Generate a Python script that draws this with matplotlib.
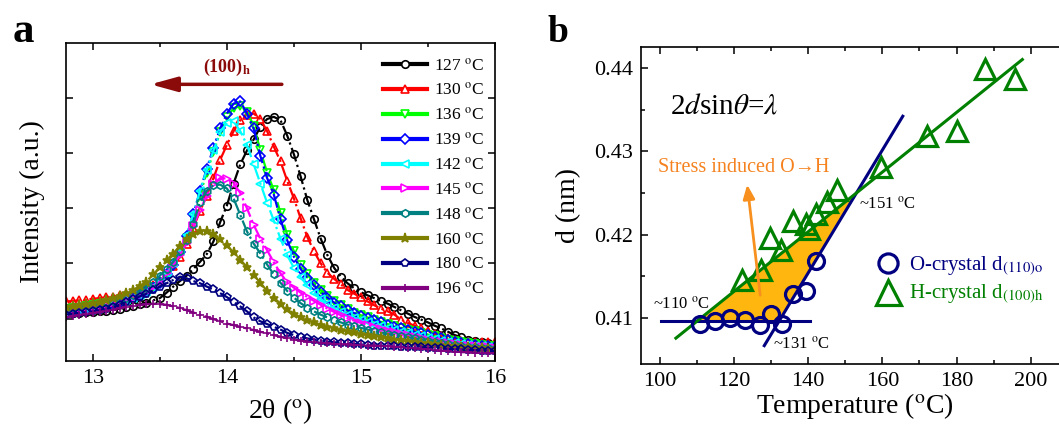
import numpy as np
import matplotlib
matplotlib.use('Agg')
import matplotlib.pyplot as plt

plt.rcParams['font.family'] = ['Liberation Serif', 'DejaVu Serif']
plt.rcParams['mathtext.fontset'] = 'stix'

# ---------------- panel a : XRD scans ----------------
# scan grid (2theta, deg), step 0.05
two_theta = np.round(np.arange(12.80, 16.001, 0.05), 2)

temps_a = ['127', '130', '136', '139', '142', '145', '148', '160', '180', '196']

i127 = [1.10, 1.10, 1.11, 1.12, 1.12, 1.13, 1.14, 1.16, 1.18, 1.21,
        1.23, 1.26, 1.29, 1.33, 1.37, 1.47, 1.58, 1.68, 1.78, 1.90,
        2.03, 2.17, 2.40, 2.75, 3.05, 3.45, 3.80, 4.05, 4.25, 4.48,
        4.62, 4.66, 4.60, 4.32, 3.98, 3.58, 3.15, 2.80, 2.45, 2.15,
        1.92, 1.76, 1.64, 1.55, 1.48, 1.42, 1.37, 1.32, 1.27, 1.21,
        1.15, 1.09, 1.03, 0.98, 0.93, 0.87, 0.82, 0.76, 0.70, 0.66,
        0.62, 0.59, 0.57, 0.55, 0.53]
i130 = [1.31, 1.32, 1.33, 1.34, 1.36, 1.37, 1.39, 1.40, 1.42, 1.44,
        1.47, 1.51, 1.55, 1.61, 1.68, 1.80, 1.95, 2.12, 2.35, 2.65,
        2.95, 3.23, 3.55, 3.88, 4.15, 4.40, 4.60, 4.70, 4.72, 4.62,
        4.40, 4.12, 3.85, 3.50, 3.18, 2.82, 2.48, 2.22, 2.00, 1.83,
        1.72, 1.62, 1.52, 1.45, 1.39, 1.31, 1.24, 1.18, 1.13, 1.07,
        0.98, 0.92, 0.87, 0.82, 0.77, 0.72, 0.68, 0.64, 0.61, 0.59,
        0.58, 0.58, 0.57, 0.57, 0.57]
i136 = [1.18, 1.19, 1.20, 1.22, 1.24, 1.26, 1.28, 1.30, 1.33, 1.36,
        1.40, 1.45, 1.51, 1.58, 1.67, 1.80, 1.97, 2.18, 2.46, 2.84,
        3.25, 3.65, 4.02, 4.38, 4.65, 4.82, 4.85, 4.75, 4.50, 4.05,
        3.65, 3.33, 2.92, 2.52, 2.22, 1.98, 1.80, 1.65, 1.52, 1.41,
        1.32, 1.24, 1.17, 1.11, 1.06, 1.02, 0.98, 0.94, 0.90, 0.86,
        0.83, 0.80, 0.77, 0.74, 0.71, 0.68, 0.65, 0.62, 0.59, 0.57,
        0.55, 0.53, 0.52, 0.51, 0.50]
i139 = [1.15, 1.16, 1.17, 1.19, 1.21, 1.23, 1.25, 1.27, 1.30, 1.33,
        1.37, 1.42, 1.48, 1.56, 1.65, 1.80, 1.98, 2.20, 2.50, 2.90,
        3.32, 3.72, 4.10, 4.45, 4.72, 4.90, 4.94, 4.72, 4.45, 3.95,
        3.55, 3.25, 2.80, 2.42, 2.12, 1.90, 1.74, 1.60, 1.48, 1.38,
        1.29, 1.22, 1.15, 1.10, 1.05, 1.01, 0.97, 0.93, 0.89, 0.85,
        0.82, 0.79, 0.76, 0.73, 0.70, 0.67, 0.64, 0.61, 0.58, 0.56,
        0.54, 0.52, 0.51, 0.50, 0.49]
i142 = [1.16, 1.17, 1.18, 1.20, 1.22, 1.24, 1.26, 1.28, 1.31, 1.34,
        1.38, 1.43, 1.49, 1.57, 1.67, 1.82, 2.00, 2.22, 2.52, 2.90,
        3.32, 3.70, 4.05, 4.38, 4.55, 4.58, 4.40, 4.15, 3.80, 3.45,
        3.10, 2.78, 2.45, 2.15, 1.92, 1.75, 1.60, 1.47, 1.36, 1.27,
        1.19, 1.12, 1.06, 1.01, 0.97, 0.93, 0.89, 0.86, 0.83, 0.80,
        0.76, 0.73, 0.70, 0.68, 0.65, 0.63, 0.60, 0.58, 0.56, 0.54,
        0.52, 0.51, 0.50, 0.49, 0.48]
i145 = [1.15, 1.16, 1.17, 1.19, 1.21, 1.23, 1.25, 1.28, 1.31, 1.34,
        1.38, 1.43, 1.49, 1.57, 1.67, 1.82, 1.98, 2.15, 2.38, 2.68,
        2.97, 3.23, 3.45, 3.55, 3.54, 3.45, 3.28, 3.00, 2.70, 2.45,
        2.24, 2.02, 1.82, 1.66, 1.56, 1.47, 1.39, 1.32, 1.25, 1.18,
        1.12, 1.06, 1.01, 0.96, 0.92, 0.88, 0.84, 0.81, 0.78, 0.75,
        0.72, 0.70, 0.67, 0.65, 0.62, 0.60, 0.58, 0.56, 0.54, 0.52,
        0.51, 0.50, 0.49, 0.48, 0.47]
i148 = [1.20, 1.21, 1.22, 1.24, 1.26, 1.28, 1.30, 1.32, 1.35, 1.38,
        1.43, 1.49, 1.56, 1.66, 1.78, 1.90, 2.03, 2.22, 2.42, 2.72,
        3.12, 3.32, 3.42, 3.43, 3.36, 3.18, 2.88, 2.58, 2.36, 2.18,
        1.98, 1.80, 1.65, 1.50, 1.38, 1.28, 1.20, 1.13, 1.07, 1.02,
        0.97, 0.93, 0.89, 0.86, 0.83, 0.80, 0.77, 0.75, 0.72, 0.70,
        0.68, 0.66, 0.64, 0.62, 0.60, 0.58, 0.56, 0.54, 0.52, 0.51,
        0.49, 0.48, 0.47, 0.46, 0.45]
i160 = [1.21, 1.22, 1.24, 1.26, 1.28, 1.30, 1.33, 1.37, 1.41, 1.46,
        1.52, 1.59, 1.67, 1.80, 1.93, 2.06, 2.18, 2.32, 2.45, 2.54,
        2.58, 2.58, 2.54, 2.45, 2.33, 2.20, 2.07, 1.93, 1.79, 1.65,
        1.50, 1.38, 1.27, 1.17, 1.09, 1.02, 0.97, 0.93, 0.89, 0.85,
        0.82, 0.79, 0.77, 0.75, 0.72, 0.70, 0.68, 0.66, 0.64, 0.62,
        0.61, 0.59, 0.58, 0.56, 0.55, 0.53, 0.52, 0.51, 0.50, 0.49,
        0.48, 0.47, 0.46, 0.45, 0.44]
i180 = [1.07, 1.09, 1.10, 1.12, 1.13, 1.15, 1.18, 1.21, 1.25, 1.30,
        1.35, 1.40, 1.45, 1.51, 1.58, 1.64, 1.70, 1.76, 1.73, 1.68,
        1.64, 1.58, 1.53, 1.46, 1.39, 1.30, 1.22, 1.13, 1.02, 0.95,
        0.90, 0.85, 0.80, 0.74, 0.70, 0.67, 0.64, 0.62, 0.60, 0.58,
        0.57, 0.56, 0.55, 0.54, 0.53, 0.52, 0.51, 0.51, 0.50, 0.50,
        0.49, 0.49, 0.48, 0.48, 0.47, 0.46, 0.46, 0.45, 0.44, 0.44,
        0.43, 0.43, 0.42, 0.42, 0.41]
i196 = [1.02, 1.04, 1.06, 1.08, 1.10, 1.12, 1.14, 1.16, 1.19, 1.21,
        1.23, 1.25, 1.26, 1.27, 1.26, 1.25, 1.22, 1.19, 1.15, 1.11,
        1.07, 1.03, 0.99, 0.95, 0.91, 0.88, 0.85, 0.82, 0.79, 0.76,
        0.73, 0.70, 0.67, 0.64, 0.62, 0.60, 0.58, 0.57, 0.56, 0.55,
        0.54, 0.53, 0.53, 0.52, 0.52, 0.51, 0.51, 0.50, 0.50, 0.49,
        0.48, 0.47, 0.46, 0.45, 0.44, 0.43, 0.42, 0.41, 0.40, 0.39,
        0.39, 0.38, 0.38, 0.37, 0.37]

intens = [i127, i130, i136, i139, i142, i145, i148, i160, i180, i196]
colors_a = ['black', '#ff0000', '#00ff00', '#0000ff', '#00ffff',
            '#ff00ff', '#008080', '#808000', '#000080', '#800080']
markers_a = ['o', '^', 'v', 'D', '<', '>', 'h', '*', 'p', '+']

# ---------------- panel b : d-spacing ----------------
o_T = [111, 115, 119, 123, 127, 130, 133, 136, 139.5, 142]
o_d = [0.4093, 0.4097, 0.4100, 0.4098, 0.4092, 0.4105, 0.4093, 0.4129, 0.4132, 0.4169]

h_T = [122.3, 127.3, 129.7, 132.7, 135.9, 139.5, 140.3, 142.1, 145.0, 147.9,
       159.7, 172.1, 180.0, 187.7, 195.6]
h_d = [0.4146, 0.4158, 0.4196, 0.4182, 0.4217, 0.4213, 0.4207, 0.4225, 0.4239, 0.4253,
       0.4281, 0.4318, 0.4324, 0.4399, 0.4387]

# linear fits (end points)
flat_T = [100.3, 140.5]
flat_d = [0.4096, 0.4096]
steep_T = [128.2, 165.5]
steep_d = [0.4067, 0.4342]
hfit_T = [104.4, 197.7]
hfit_d = [0.4076, 0.4410]

W, H = 1059, 428
fig = plt.figure(figsize=(W / 100, H / 100), dpi=100)

# ---- panel a ----
ax = fig.add_axes([66 / W, 1 - 361 / H, 429 / W, 318 / H])
for lab, y, c, m in zip(temps_a, intens, colors_a, markers_a):
    ms = 5.4
    if m == 'D':
        ms = 4.6
    if m == '*':
        ms = 6.5
    if m == '+':
        ms = 6
    if m in ('*', '+'):
        mfc = c
    else:
        mfc = 'none'
    ax.plot(two_theta, y, ls='-.', lw=1.6, color=c, marker=m, ms=ms, mew=1.2,
            mfc=mfc, mec=c, label=lab + r' $^{\rm o}$C')

ax.set_xlim(12.8, 16.0)
ax.set_ylim(0.23, 6.0)
ax.set_xticks([13, 14, 15, 16])
ax.set_xticks([13.5, 14.5, 15.5], minor=True)
ax.set_yticks([1, 2, 3, 4, 5])
ax.set_yticklabels([])
ax.tick_params(direction='in', which='both', top=True, right=True, labelsize=16, pad=6)
ax.tick_params(which='major', length=5, width=1.1)
ax.tick_params(which='minor', length=3, width=1.1)
for s in ax.spines.values():
    s.set_linewidth(1.2)
ax.set_xlabel(r'2θ ($^{\rm o}$)', fontsize=20)
ax.set_ylabel('Intensity (a.u.)', fontsize=20)
ax.yaxis.set_label_coords(-0.05, 0.5)
ax.xaxis.set_label_coords(0.5, -0.11)

lega = ax.legend(loc='upper left', bbox_to_anchor=(0.74, 0.955), frameon=False,
                 fontsize=12.5, handlelength=2.5, handletextpad=0.4, labelspacing=0.465,
                 borderaxespad=0, borderpad=0)
for ln in lega.get_lines():
    ln.set_linestyle('-')
    ln.set_linewidth(3)
    if ln.get_marker() not in ('*', '+'):
        ln.set_markerfacecolor('white')

ax.annotate('', xy=(13.43, 5.25), xytext=(14.41, 5.25),
            arrowprops=dict(arrowstyle='-|>,head_length=0.8,head_width=0.22',
                            color='#8b0a0a', lw=2.5, mutation_scale=20,
                            shrinkA=0, shrinkB=0))
ax.text(14.0, 5.55, r'(100)$_{\mathbf{h}}$', ha='center', va='center', fontsize=13,
        fontweight='bold', color='#8b0a0a')

# ---- panel b ----
bx = fig.add_axes([641 / W, 1 - 364 / H, 427 / W, 317 / H])

tt = np.linspace(100, 170, 800)
top = np.interp(tt, hfit_T, hfit_d)
bot = np.maximum(np.interp(tt, flat_T, flat_d), np.interp(tt, steep_T, steep_d))
bx.fill_between(tt, bot, top, where=top >= bot, interpolate=True,
                color='#ffb70f', lw=0, zorder=1)

bx.plot(flat_T, flat_d, color='#000080', lw=2.2, zorder=2)
bx.plot(steep_T, steep_d, color='#000080', lw=2.2, zorder=2)
bx.plot(hfit_T, hfit_d, color='#008000', lw=2.2, zorder=2)

bx.plot(o_T, o_d, ls='none', marker='o', ms=11.5, mfc='none', mec='#000080', mew=2.3,
        zorder=3, label=r'O-crystal d$_{\rm (110)o}$')
bx.plot(h_T, h_d, ls='none', marker='^', ms=15, mfc='none', mec='#008000', mew=2.3,
        zorder=3, label=r'H-crystal d$_{\rm (100)h}$')

bx.set_xlim(95, 210)
bx.set_ylim(0.4045, 0.4425)
bx.set_xticks([100, 120, 140, 160, 180, 200])
bx.set_xticks([110, 130, 150, 170, 190, 210], minor=True)
bx.set_yticks([0.41, 0.42, 0.43, 0.44])
bx.set_yticks([0.415, 0.425, 0.435], minor=True)
bx.tick_params(direction='in', which='both', top=True, right=True, labelsize=16, pad=6)
bx.tick_params(which='major', length=5, width=1.1)
bx.tick_params(which='minor', length=3, width=1.1)
for s in bx.spines.values():
    s.set_linewidth(1.2)
bx.set_xlabel(r'Temperature ($^{\rm o}$C)', fontsize=20)
bx.set_ylabel('d (nm)', fontsize=20)
bx.yaxis.set_label_coords(-0.14, 0.5)
bx.xaxis.set_label_coords(0.5, -0.085)

leg = bx.legend(loc='upper left', bbox_to_anchor=(0.555, 0.345), frameon=False,
                fontsize=15, handlelength=1.0, handletextpad=0.5, labelspacing=0.25,
                borderaxespad=0, borderpad=0, numpoints=1, markerscale=1.2)
for t, c in zip(leg.get_texts(), ['#000080', '#008000']):
    t.set_color(c)

bx.text(102.7, 0.4354, r'2$d$sin$\theta$=$\lambda$', fontsize=21, va='center', ha='left')
bx.text(99.5, 0.4280, 'Stress induced O\u2192H', fontsize=14.5, va='center', ha='left',
        color='#f5821f')
bx.annotate('', xy=(123.6, 0.4260), xytext=(127.1, 0.41275),
            arrowprops=dict(arrowstyle='-|>,head_length=0.6,head_width=0.25',
                            color='#f7901e', lw=2, mutation_scale=14,
                            shrinkA=0, shrinkB=0), zorder=4)
bx.text(98.2, 0.4117, r'~110 $^{\rm o}$C', fontsize=12, va='center', ha='left')
bx.text(130.6, 0.4069, r'~131 $^{\rm o}$C', fontsize=12, va='center', ha='left')
bx.text(153.6, 0.42365, r'~151 $^{\rm o}$C', fontsize=12, va='center', ha='left')

fig.text(13 / W, 1 - 42 / H, 'a', fontsize=31, fontweight='bold', va='baseline')
fig.text(547 / W, 1 - 42 / H, 'b', fontsize=27, fontweight='bold', va='baseline')

fig.savefig('out.png', dpi=100)
